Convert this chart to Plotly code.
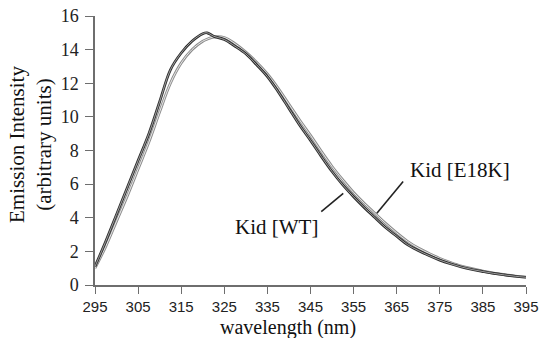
import plotly.graph_objects as go

wavelength = [295, 297.5, 300, 302.5, 305, 307.5, 310, 312.5, 315, 317.5, 320, 321,
              322.5, 325, 327.5, 330, 332.5, 335, 337.5, 340, 342.5, 345, 347.5, 350,
              352.5, 355, 357.5, 360, 362.5, 365, 367.5, 370, 372.5, 375, 377.5, 380,
              382.5, 385, 387.5, 390, 392.5, 395]

wt = [1.1, 2.6, 4.2, 5.8, 7.4, 9.0, 10.9, 12.8, 13.8, 14.5, 14.95, 15.0,
      14.8, 14.6, 14.2, 13.75, 13.1, 12.4, 11.5, 10.5, 9.5, 8.6, 7.65, 6.75,
      5.95, 5.25, 4.6, 4.0, 3.4, 2.9, 2.4, 2.05, 1.75, 1.48, 1.26, 1.07,
      0.92, 0.8, 0.69, 0.6, 0.52, 0.46]

e18k = [1.0, 2.3, 3.8, 5.3, 6.9, 8.5, 10.3, 12.0, 13.2, 14.0, 14.5, 14.62,
        14.75, 14.72, 14.35, 13.85, 13.25, 12.55, 11.7, 10.75, 9.8, 8.9, 7.95, 7.05,
        6.25, 5.5, 4.85, 4.25, 3.65, 3.1, 2.6, 2.2, 1.88, 1.58, 1.34, 1.13,
        0.97, 0.83, 0.71, 0.62, 0.53, 0.47]

x_ticks = [295, 305, 315, 325, 335, 345, 355, 365, 375, 385, 395]
y_ticks = [0, 2, 4, 6, 8, 10, 12, 14, 16]

labels = ["Kid [WT]", "Kid [E18K]"]

fig = go.Figure()

# E18K: grey double line
fig.add_trace(go.Scatter(x=wavelength, y=e18k, mode="lines",
                         line=dict(color="#8c8c8c", width=2.8, shape="spline"),
                         showlegend=False, hoverinfo="skip"))
fig.add_trace(go.Scatter(x=wavelength, y=e18k, mode="lines",
                         line=dict(color="#f4f4f4", width=0.9, shape="spline"),
                         showlegend=False, name=labels[1]))
# WT: dark double line
fig.add_trace(go.Scatter(x=wavelength, y=wt, mode="lines",
                         line=dict(color="#2e2e2e", width=2.7, shape="spline"),
                         showlegend=False, hoverinfo="skip"))
fig.add_trace(go.Scatter(x=wavelength, y=wt, mode="lines",
                         line=dict(color="#cfcfcf", width=0.7, shape="spline"),
                         showlegend=False, name=labels[0]))

serif = "Liberation Serif, Times New Roman, serif"
sans = "Liberation Sans, Arial, sans-serif"

# callout lines
fig.add_shape(type="line", x0=347.5, y0=4.36, x1=352.6, y1=5.45,
              line=dict(color="#222", width=1.6))
fig.add_shape(type="line", x0=360.4, y0=4.27, x1=366.5, y1=6.15,
              line=dict(color="#222", width=1.6))

fig.add_annotation(x=337.1, y=3.45, text=labels[0], showarrow=False,
                   font=dict(family=serif, size=21, color="#111"))
fig.add_annotation(x=379.7, y=6.84, text=labels[1], showarrow=False,
                   font=dict(family=serif, size=21, color="#111"))

# axis titles
fig.add_annotation(xref="paper", yref="paper", x=0.447, y=-0.158, yanchor="middle",
                   text="wavelength (nm)", showarrow=False,
                   font=dict(family=serif, size=20, color="#111"))
fig.add_annotation(xref="paper", yref="paper", x=-0.151, y=0.524, xanchor="center",
                   yanchor="middle",
                   text="Emission Intensity<br>(arbitrary units)", showarrow=False,
                   textangle=-90,
                   font=dict(family=serif, size=21, color="#111"))

fig.update_layout(
    width=540, height=338,
    margin=dict(l=95, r=14, t=16, b=53, autoexpand=False),
    paper_bgcolor="white", plot_bgcolor="white",
    xaxis=dict(range=[295, 395], tickvals=x_ticks, ticktext=[str(v) for v in x_ticks],
               showgrid=False, zeroline=False, showline=True, linecolor="#6e6e6e",
               linewidth=1.5, ticks="outside", ticklen=7, tickwidth=1.3,
               tickcolor="#6e6e6e", automargin=False,
               tickfont=dict(family=sans, size=15, color="#222")),
    yaxis=dict(range=[0, 16], tickvals=y_ticks, ticktext=[str(v) for v in y_ticks],
               showgrid=False, zeroline=False, showline=True, linecolor="#6e6e6e",
               linewidth=1.5, ticks="outside", ticklen=8, tickwidth=1.3,
               tickcolor="#6e6e6e", ticklabelstandoff=3, automargin=False,
               tickfont=dict(family=serif, size=18, color="#222")),
)

fig.write_html("out.html", config={"displayModeBar": False},
               post_script="document.body.style.margin='0';document.body.style.padding='0';")
